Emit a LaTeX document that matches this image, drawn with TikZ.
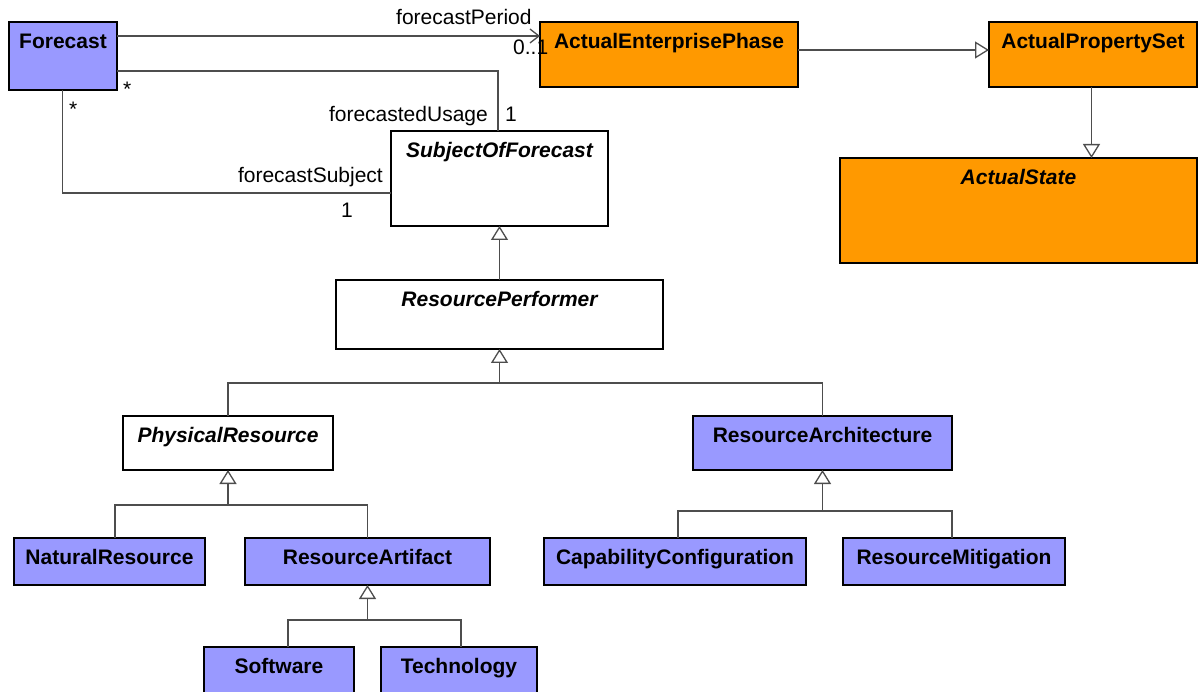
\documentclass[tikz,border=0pt]{standalone}
\usepackage{fontspec}
\setmainfont{Liberation Sans}
\usetikzlibrary{arrows.meta}
\definecolor{cblue}{HTML}{9999FF}
\definecolor{corange}{HTML}{FF9900}
\definecolor{lgrey}{HTML}{4D4D4D}
\begin{document}
\begin{tikzpicture}[x=1pt,y=-1pt,
  font=\fontsize{21}{25}\selectfont,
  box/.style={draw=black, line width=1.5pt, anchor=north west, inner sep=0pt, outer sep=0pt},
  ttl/.style={anchor=north, inner sep=0pt, text height=16pt, yshift=-10pt, font=\fontsize{21}{25}\selectfont\bfseries},
  attl/.style={ttl, font=\fontsize{21}{25}\selectfont\bfseries\itshape},
  blue/.style={box, fill=cblue},
  orange/.style={box, fill=corange},
  white/.style={box, fill=white},
  conn/.style={draw=lgrey, line width=1.3pt},
  gen/.style={conn, -{Triangle[open, length=14pt, width=17pt, line width=1.3pt]}},
  nav/.style={conn, -{Straight Barb[length=9pt, width=14pt, line width=1.3pt]}},
  lbl/.style={anchor=base west, inner sep=0pt},
  lblr/.style={anchor=base east, inner sep=0pt}
]
\useasboundingbox (0,0) rectangle (1199,692);

% boxes
\node[blue, minimum width=108pt, minimum height=68pt, label={[ttl]north:Forecast}] (fc) at (9,22) {};
\node[orange, minimum width=258pt, minimum height=65pt, label={[ttl]north:ActualEnterprisePhase}] (aep) at (540,22) {};
\node[orange, minimum width=208pt, minimum height=65pt, label={[ttl]north:ActualPropertySet}] (aps) at (989,22) {};
\node[orange, minimum width=357pt, minimum height=105pt, label={[attl]north:ActualState}] (as) at (840,158) {};
\node[white, minimum width=217pt, minimum height=95pt, label={[attl]north:SubjectOfForecast}] (sof) at (391,131) {};
\node[white, minimum width=327pt, minimum height=69pt, label={[attl]north:ResourcePerformer}] (rp) at (336,280) {};
\node[white, minimum width=210pt, minimum height=54pt, label={[attl]north:PhysicalResource}] (pr) at (123,416) {};
\node[blue, minimum width=259pt, minimum height=54pt, label={[ttl]north:ResourceArchitecture}] (ra) at (693,416) {};
\node[blue, minimum width=191pt, minimum height=47pt, label={[ttl]north:NaturalResource}] (nr) at (14,538) {};
\node[blue, minimum width=245pt, minimum height=47pt, label={[ttl]north:ResourceArtifact}] (art) at (245,538) {};
\node[blue, minimum width=262pt, minimum height=47pt, label={[ttl]north:CapabilityConfiguration}] (cc) at (544,538) {};
\node[blue, minimum width=222pt, minimum height=47pt, label={[ttl]north:ResourceMitigation}] (rm) at (843,538) {};
\node[blue, minimum width=150pt, minimum height=55pt, label={[ttl]north:Software}] (sw) at (204,647) {};
\node[blue, minimum width=156pt, minimum height=55pt, label={[ttl]north:Technology}] (tech) at (381,647) {};

% associations
\draw[nav] ([yshift=-14pt]fc.north east) -- ([yshift=-14pt]aep.north west);
\draw[conn] ([yshift=-49pt]fc.north east) -| ([xshift=107pt]sof.north west);
\draw[conn] ([xshift=-0.5pt]fc.south) |- ([yshift=-62pt]sof.north west);

% association labels
\node[lbl] (l1) at (396,25) {forecastPeriod};
\node[lbl] (l2) at (513,55) {0..1};
\node[lbl] (l3) at (123,97) {*};
\node[lbl] (l4) at (69,117) {*};
\node[lblr] (l5) at (488,122) {forecastedUsage};
\node[lbl] (l6) at (505,122) {1};
\node[lblr] (l7) at (383,183) {forecastSubject};
\node[lbl] (l8) at (341,218) {1};

% generalizations top right
\draw[gen] ([yshift=-28pt]aep.north east) -- ([yshift=-28pt]aps.north west);
\draw[gen] ([xshift=-1.5pt]aps.south) -- ([xshift=-1.5pt]aps.south |- as.north);

% generalization SOF <- RP
\draw[gen] (rp.north) -- (rp.north |- sof.south);

% RP tree
\coordinate (j1) at (499.5,383);
\draw[conn] (pr.north) |- (j1);
\draw[conn] (ra.north) |- (j1);
\draw[gen] (j1) -- (rp.south);

% PR tree
\coordinate (j2) at (228,505);
\draw[conn] ([xshift=5.5pt]nr.north) |- (j2);
\draw[conn] (art.north) |- (j2);
\draw[gen] (j2) -- (j2 |- pr.south);

% RA tree
\coordinate (j3) at (822.5,511);
\draw[conn] ([xshift=3pt]cc.north) |- (j3);
\draw[conn] ([xshift=-2pt]rm.north) |- (j3);
\draw[gen] (j3) -- (ra.south);

% Artifact tree
\coordinate (j4) at (367.5,620);
\draw[conn] ([xshift=9pt]sw.north) |- (j4);
\draw[conn] ([xshift=2pt]tech.north) |- (j4);
\draw[gen] (j4) -- (art.south);
\end{tikzpicture}
\end{document}
